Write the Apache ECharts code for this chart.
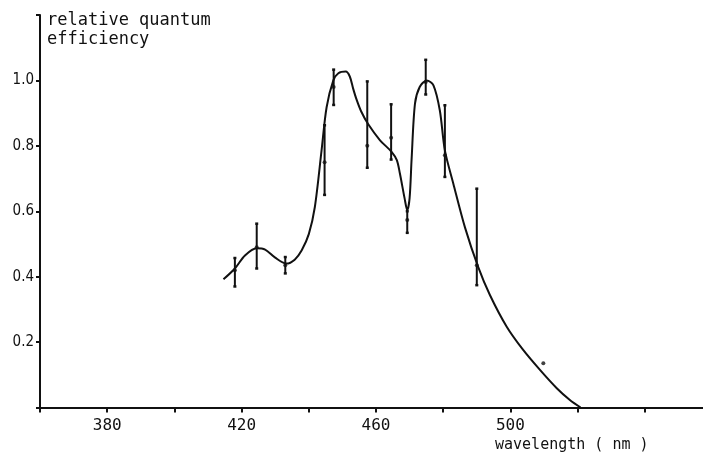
<!DOCTYPE html>
<html>
<head>
<meta charset="utf-8">
<style>
  html, body { margin: 0; padding: 0; background: #fff; }
  #chart { width: 703px; height: 462px; }
</style>
<script src="https://cdn.jsdelivr.net/npm/echarts@6/dist/echarts.min.js"></script>
</head>
<body>
<div id="chart"></div>
<script>
// fitted curve
var curveX = [414.6, 418, 421, 424.5, 427, 430, 433.3, 435.8, 437.9, 440, 441.8, 443.8, 445.3, 447.3, 448.8, 451.0, 452.2, 453.2, 454.2, 455.6, 457.7, 461.2, 464.7, 466.2, 467.1, 468.5, 469.3, 470.0, 470.6, 471.6, 473, 475.1, 477.1, 479.0, 480.5, 483, 486.5, 490.4, 493.9, 498.9, 503.8, 508.8, 513.8, 517.7, 520.9];
var curveY = [0.392, 0.425, 0.465, 0.487, 0.483, 0.458, 0.44, 0.452, 0.481, 0.53, 0.613, 0.786, 0.918, 1.0, 1.022, 1.027, 1.012, 0.975, 0.942, 0.905, 0.866, 0.817, 0.781, 0.756, 0.716, 0.64, 0.603, 0.64, 0.76, 0.929, 0.98, 1.0, 0.985, 0.908, 0.786, 0.685, 0.55, 0.43, 0.344, 0.247, 0.176, 0.115, 0.059, 0.023, 0];

// measured points with error bars
var errX = [418, 424.5, 433, 444.7, 447.4, 457.4, 464.5, 469.3, 474.8, 480.5, 490];
var errMid = [0.42, 0.49, 0.435, 0.75, 0.98, 0.80, 0.825, 0.573, 0.995, 0.771, 0.435];
var errLow = [0.37, 0.425, 0.41, 0.65, 0.925, 0.733, 0.758, 0.534, 0.957, 0.705, 0.374];
var errHigh = [0.457, 0.562, 0.46, 0.863, 1.033, 0.997, 0.927, 0.6, 1.063, 0.924, 0.669];

// single point without bar
var loneX = [509.8];
var loneY = [0.135];

var xLabels = [380, 420, 460, 500];
var yLabels = [0.2, 0.4, 0.6, 0.8, 1.0];

var chart = echarts.init(document.getElementById('chart'));

var curveData = curveX.map(function (x, i) { return [x, curveY[i]]; });
var barData = errX.map(function (x, i) { return [x, errLow[i], errHigh[i], errMid[i]]; });
var midData = errX.map(function (x, i) { return [x, errMid[i]]; });
var loneData = loneX.map(function (x, i) { return [x, loneY[i]]; });

var ink = '#111';

var option = {
  animation: false,
  backgroundColor: '#fff',
  grid: { left: 40, right: -9, top: 15, bottom: 54.5, outerBoundsMode: 'none', containLabel: false },
  xAxis: {
    type: 'value',
    min: 360,
    max: 560,
    interval: 20,
    axisLine: { lineStyle: { color: ink, width: 2 } },
    axisTick: { length: 5, lineStyle: { color: ink, width: 2 } },
    splitLine: { show: false },
    axisLabel: {
      color: ink,
      fontFamily: 'DejaVu Sans Mono',
      fontSize: 16,
      margin: 10,
      formatter: function (v) {
        return xLabels.indexOf(v) >= 0 ? String(v) : '';
      }
    }
  },
  yAxis: {
    type: 'value',
    min: 0,
    max: 1.2,
    interval: 0.2,
    axisLine: { show: true, lineStyle: { color: ink, width: 2 } },
    axisTick: { show: true, length: 4, lineStyle: { color: ink, width: 2 } },
    splitLine: { show: false },
    axisLabel: {
      color: ink,
      fontFamily: 'DejaVu Sans Condensed',
      fontSize: 15,
      margin: 6,
      formatter: function (v) {
        var r = Math.round(v * 10) / 10;
        return yLabels.indexOf(r) >= 0 ? r.toFixed(1) : '';
      }
    }
  },
  graphic: [
    {
      type: 'text',
      left: 47,
      top: 11,
      style: {
        text: 'relative quantum\nefficiency',
        fill: ink,
        font: '17px "DejaVu Sans Mono"',
        lineHeight: 19
      }
    },
    {
      type: 'text',
      left: 495,
      top: 438,
      style: {
        text: 'wavelength ( nm )',
        fill: ink,
        font: '15px "DejaVu Sans Mono"'
      }
    }
  ],
  series: [
    {
      type: 'line',
      data: curveData,
      smooth: 0.3,
      symbol: 'none',
      lineStyle: { color: ink, width: 2 }
    },
    {
      type: 'custom',
      data: barData,
      renderItem: function (params, api) {
        var x = api.value(0);
        var lo = api.coord([x, api.value(1)]);
        var hi = api.coord([x, api.value(2)]);
        var cap = 1.5;
        return {
          type: 'group',
          children: [
            { type: 'line', shape: { x1: lo[0], y1: lo[1], x2: hi[0], y2: hi[1] }, style: { stroke: ink, lineWidth: 2 } },
            { type: 'line', shape: { x1: lo[0] - cap, y1: lo[1], x2: lo[0] + cap, y2: lo[1] }, style: { stroke: ink, lineWidth: 2.5 } },
            { type: 'line', shape: { x1: hi[0] - cap, y1: hi[1], x2: hi[0] + cap, y2: hi[1] }, style: { stroke: ink, lineWidth: 2.5 } }
          ]
        };
      }
    },
    {
      type: 'scatter',
      data: midData,
      symbolSize: 4,
      itemStyle: { color: ink }
    },
    {
      type: 'scatter',
      data: loneData,
      symbolSize: 4,
      itemStyle: { color: ink }
    }
  ]
};

chart.setOption(option);
</script>
</body>
</html>
